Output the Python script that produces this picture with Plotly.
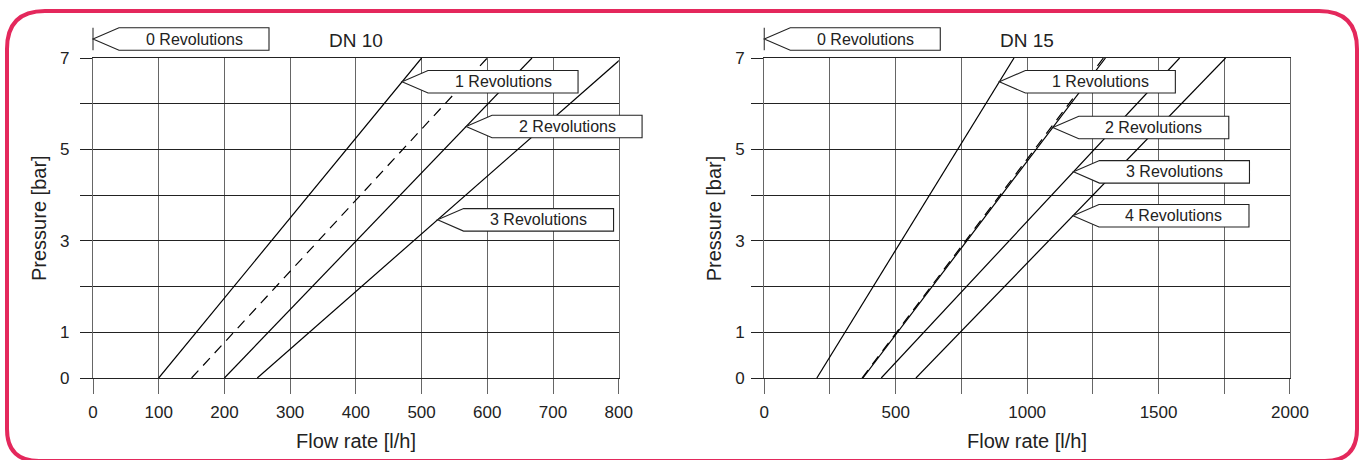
import numpy as np
import plotly.graph_objects as go
from plotly.subplots import make_subplots

# ---------------- data ----------------
pressure_pts = [0, 7]                      # bar

# DN 10 (flow rate l/h at pressure 0 and 7 bar)
dn10_rev1 = [100, 500]
dn10_dashed = [150, 600]
dn10_rev2 = [200, 668]
dn10_rev3 = [250, 805]

# DN 15
dn15_rev1 = [200, 950]
dn15_dashed = [372, 1290]
dn15_rev2 = [375, 1298]
dn15_rev3 = [445, 1580]
dn15_rev4 = [577, 1755]

dn10_xticks = [0, 100, 200, 300, 400, 500, 600, 700, 800]
dn10_xlabels = ["0", "100", "200", "300", "400", "500", "600", "700", "800"]
dn15_xticks = [0, 250, 500, 750, 1000, 1250, 1500, 1750, 2000]
dn15_xlabels = ["0", "", "500", "", "1000", "", "1500", "", "2000"]
yticks = [0, 1, 2, 3, 4, 5, 6, 7]
ylabels = ["0", "1", "", "3", "", "5", "", "7"]

# label: text, series, pressure where the arrow points
dn10_labels = [("1 Revolutions", dn10_rev1, 6.48),
               ("2 Revolutions", dn10_rev2, 5.5),
               ("3 Revolutions", dn10_rev3, 3.46)]
dn15_labels = [("1 Revolutions", dn15_rev1, 6.48),
               ("2 Revolutions", dn15_rev2, 5.48),
               ("3 Revolutions", dn15_rev3, 4.51),
               ("4 Revolutions", dn15_rev4, 3.55)]

XMAX = [800, 2000]
YMAX = 7

FONT = "Liberation Sans"
TXT = "#222222"

fig = make_subplots(rows=1, cols=2, horizontal_spacing=0.1216)

line = dict(color="black", width=1.2)
dline = dict(color="black", width=1.2, dash="10px,7px")

for s in [dn10_rev1, dn10_rev2, dn10_rev3]:
    fig.add_trace(go.Scatter(x=s, y=pressure_pts, mode="lines", line=line, showlegend=False, hoverinfo="skip"), 1, 1)
fig.add_trace(go.Scatter(x=dn10_dashed, y=pressure_pts, mode="lines", line=dline, showlegend=False, hoverinfo="skip"), 1, 1)
for s in [dn15_rev1, dn15_rev2, dn15_rev3, dn15_rev4]:
    fig.add_trace(go.Scatter(x=s, y=pressure_pts, mode="lines", line=line, showlegend=False, hoverinfo="skip"), 1, 2)
fig.add_trace(go.Scatter(x=dn15_dashed, y=pressure_pts, mode="lines", line=dline, showlegend=False, hoverinfo="skip"), 1, 2)

L, R, T, B = 93, 74, 58, 82
W, H = 1364, 460
PH = H - T - B

fig.update_layout(
    width=W, height=H, margin=dict(l=L, r=R, t=T, b=B, autoexpand=False),
    paper_bgcolor="white", plot_bgcolor="white",
    font=dict(family=FONT, color=TXT, size=17),
)

xcommon = dict(showgrid=True, gridcolor="#666666", gridwidth=1.2, zeroline=False,
               showline=True, mirror=True, linecolor="#222222", linewidth=1.1,
               ticks="outside", ticklen=15, tickcolor="#666666", tickwidth=1.2, automargin=False,
               tickfont=dict(size=17, family=FONT, color=TXT), ticklabelstandoff=4)
ycommon = dict(range=[0, YMAX], showgrid=True, gridcolor="#222222", gridwidth=1.1, zeroline=False,
               showline=True, mirror=True, linecolor="#666666", linewidth=1.2, automargin=False,
               ticks="outside", ticklen=12, tickcolor="#222222", tickwidth=1.1,
               tickmode="array", tickvals=yticks, ticktext=ylabels,
               tickfont=dict(size=17, family=FONT, color=TXT))

fig.update_xaxes(range=[0, XMAX[0]], tickmode="array", tickvals=dn10_xticks, ticktext=dn10_xlabels, row=1, col=1, **xcommon)
fig.update_xaxes(range=[0, XMAX[1]], tickmode="array", tickvals=dn15_xticks, ticktext=dn15_xlabels, row=1, col=2, **xcommon)
fig.update_yaxes(row=1, col=1, ticklabelstandoff=7, **ycommon)
fig.update_yaxes(row=1, col=2, ticklabelstandoff=3, **ycommon)

A, BW, BH = 26, 150, 22.5
pent = f"M0,0 L{A},{BH/2} L{A+BW},{BH/2} L{A+BW},{-BH/2} L{A},{-BH/2} Z"


def add_label(xr, yr, fx, fy, text):
    fig.add_shape(type="path", xref=xr, yref=yr, xsizemode="pixel", ysizemode="pixel",
                  xanchor=fx, yanchor=fy, path=pent, fillcolor="white",
                  line=dict(color="#222222", width=1.1), layer="above")
    fig.add_annotation(xref=xr, yref=yr, x=fx, y=fy, xshift=A + BW / 2, yshift=0,
                       text=text, showarrow=False, xanchor="center", yanchor="middle",
                       font=dict(size=16, family=FONT, color=TXT))


for i, (labels, title) in enumerate([(dn10_labels, "DN 10"), (dn15_labels, "DN 15")]):
    xr = "x domain" if i == 0 else "x2 domain"
    yr = "y domain" if i == 0 else "y2 domain"
    for text, series, p in labels:
        fx = np.interp(p, pressure_pts, series) / XMAX[i]
        add_label(xr, yr, fx, p / YMAX, text)
    # 0 revolutions marker above the axis
    fy0 = 1 + 19 / PH
    fig.add_shape(type="path", xref=xr, yref=yr, xsizemode="pixel", ysizemode="pixel",
                  xanchor=0, yanchor=fy0, path=f"M0,{BH/2} L0,{-BH/2}",
                  line=dict(color="#444444", width=1.2), layer="above")
    add_label(xr, yr, 0, fy0, "0 Revolutions")
    fig.add_annotation(xref=xr, yref=yr, x=0.5, y=1, yshift=18, text=title, showarrow=False,
                       xanchor="center", yanchor="middle", font=dict(size=19, family=FONT, color=TXT))
    fig.add_annotation(xref=xr, yref=yr, x=0.5, y=0, yshift=-63, text="Flow rate [l/h]", showarrow=False,
                       xanchor="center", yanchor="middle", font=dict(size=20, family=FONT, color=TXT))
    fig.add_annotation(xref=xr, yref=yr, x=0, y=0.5, xshift=-54 if i == 0 else -50, text="Pressure [bar]",
                       textangle=-90, showarrow=False, xanchor="center", yanchor="middle",
                       font=dict(size=20, family=FONT, color=TXT))

# rounded red frame (pixel offsets from the bottom-left of the plotting area)
xl, xrr, yt, yb = 7 - L, 1357 - L, (H - B) - 11, (H - B) - 461
rt, rb = 38, 32
frame = (f"M{xl},{yt-rt} L{xl},{yb+rb} Q{xl},{yb} {xl+rb},{yb} L{xrr-rb},{yb} "
         f"Q{xrr},{yb} {xrr},{yb+rb} L{xrr},{yt-rt} Q{xrr},{yt} {xrr-rt},{yt} "
         f"L{xl+rt},{yt} Q{xl},{yt} {xl},{yt-rt} Z")
fig.add_shape(type="path", xref="paper", yref="paper", xsizemode="pixel", ysizemode="pixel",
              xanchor=0, yanchor=0, path=frame, line=dict(color="#e4285c", width=4), layer="above")

fig.write_html("out.html", config={"displayModeBar": False},
               post_script="document.body.style.margin='0px';document.body.style.overflow='hidden';")
